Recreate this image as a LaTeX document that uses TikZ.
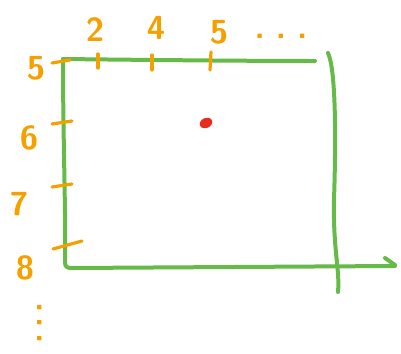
\documentclass[tikz,border=0pt]{standalone}
\usepackage{tikz}

\definecolor{pen}{RGB}{102,186,72}
\definecolor{ink}{RGB}{246,160,0}
\definecolor{dot}{RGB}{232,44,32}

\begin{document}
\begin{tikzpicture}[x=0.75pt,y=-0.75pt,
                    frame/.style={draw=pen,line width=3pt,line cap=round,line join=round},
                    tick/.style={draw=ink,line width=2.4pt,line cap=round},
                    lbl/.style={text=ink,font=\sffamily\bfseries\fontsize{25}{27}\selectfont,inner sep=0pt}]
  \useasboundingbox (0,0) rectangle (401,354);
  % grid frame
  \draw[frame] (63,59) .. controls (150,60) and (250,61) .. (315,61);
  \draw[frame] (63,59) .. controls (63,140) and (66,220) .. (65,262)
               .. controls (65,267) and (67,268) .. (72,268) -- (395,266);
  \draw[frame] (385,258) -- (395,265);
  \draw[frame] (328,53) .. controls (336,70) and (336,140) .. (334,200)
               .. controls (333,250) and (340,270) .. (338,292);
  % ticks on top
  \draw[tick] (98,54) -- (98,68);
  \draw[tick] (152,55) -- (152,70);
  \draw[tick] (211,52) -- (210,70);
  % ticks on the left
  \draw[tick] (52,63) -- (70,60);
  \draw[tick] (52,124) -- (72,121);
  \draw[tick] (52,187) -- (72,184);
  \draw[tick] (53,249) -- (82,241);
  % labels
  \node[lbl] (c2) at (95,30) {2};
  \node[lbl] (c4) at (156,28) {4};
  \node[lbl] (c5) at (219,32) {5};
  \node[lbl] (cd) at (281,36) {.\,\,.\,\,.};
  \node[lbl] (r5) at (36,68) {5};
  \node[lbl] (r6) at (29,138) {6};
  \node[lbl] (r7) at (19,204) {7};
  \node[lbl] (r8) at (25,268) {8};
  \node[lbl,rotate=-90] (rd) at (40,323) {.\,.\,.};
  % point
  \fill[dot,rotate around={25:(206,123)}] (206,123) ellipse (6.5 and 5);
\end{tikzpicture}
\end{document}
